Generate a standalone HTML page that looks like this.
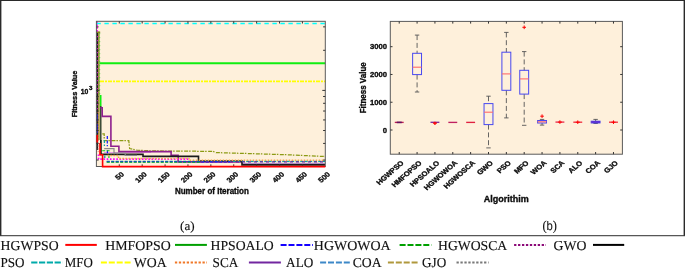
<!DOCTYPE html><html><head><meta charset="utf-8"><style>html,body{margin:0;padding:0;background:#fff;}svg{display:block;will-change:transform;}path{fill:none}.b{font-family:"Liberation Sans",sans-serif;font-weight:bold;stroke:#000;stroke-width:0.32px;fill:#111}.s{font-family:"Liberation Serif",serif;stroke:#111;stroke-width:0.12px;text-rendering:geometricPrecision;fill:#111}</style></head><body>
<svg width="685" height="270" viewBox="0 0 685 270">
<rect width="685" height="270" fill="#fff"/>
<path d="M0,0.55 H685" stroke="#2a2a2a" stroke-width="1.1"/>
<path d="M0.7,0 V236" stroke="#2a2a2a" stroke-width="1.4"/>
<path d="M684.3,0 V236" stroke="#2a2a2a" stroke-width="1.4"/>
<path d="M0,235.55 H685" stroke="#3a3a3a" stroke-width="1.25" opacity="0.85"/>
<rect x="96.4" y="21.3" width="228.90" height="145.20" fill="#FEF0DB"/>
<rect x="390.3" y="21.4" width="232.10" height="132.80" fill="#FEF0DB"/>
<path d="M97.2,31.5 V150" stroke="#222" stroke-width="1.8"/>
<path d="M97.6,36 V112" stroke="#c018c0" stroke-width="1.2" stroke-dasharray="1.2 2.8"/>
<path d="M98.9,31.5 V140" stroke="#86861c" stroke-width="1.4"/>
<path d="M96.6,32.3 H100.2" stroke="#86861c" stroke-width="1.4"/>
<path d="M99.7,33 V95" stroke="#40d040" stroke-width="0.9" stroke-dasharray="1.2 2.8"/>
<path d="M98.2,112 V152" stroke="#f07070" stroke-width="1.1" stroke-dasharray="1 1.8"/>
<path d="M96.9,114 V121 M96.9,124 V133" stroke="#2020ff" stroke-width="1.3"/>
<path d="M97.1,21.5 V31.5" stroke="#ff00ff" stroke-width="1.6" stroke-dasharray="1.6 1.2"/>
<path d="M96.4,23.5 H325.3" stroke="#00ffff" stroke-width="1.6" stroke-dasharray="4.4 3.6"/>
<path d="M99.6,63.2 H325.3" stroke="#10ee10" stroke-width="2.0"/>
<path d="M100.7,95 V106.5" stroke="#10ee10" stroke-width="1.6"/>
<path d="M100,81.4 H325.3" stroke="#ffff00" stroke-width="1.6" stroke-dasharray="4 1 2 1"/>
<path d="M100.8,106 V154.4" stroke="#1c301c" stroke-width="1.3"/>
<path d="M102.3,133.8 H104.2 V140.7 H128.8 L129.6,148.5 L137,150.2 L152,150.9 L180,151.2 L213,151.3 L216,152.6 L240,153.3 L286,154.7 L325,156.5" stroke="#8c9a14" stroke-width="1.25" stroke-dasharray="4 1 1.5 1.5"/>
<path d="M104,152.5 H151" stroke="#e79ae7" stroke-width="1.0"/>
<path d="M100.4,107.8 H102.2 V116.4 H110.9 V146.3 H118.9 V151.6 H171.1 V155.4 H178.1 V161.9 H242.2" stroke="#8e1f8e" stroke-width="1.6"/>
<path d="M242.2,162.3 V163.4 H325" stroke="#b08ac0" stroke-width="1.2"/>
<path d="M100.8,140 V154.4 H143 V156.4 H198.5 V161 H242 V164.9 H325" stroke="#1a1a1a" stroke-width="1.6"/>
<path d="M104.2,148.7 H114 V153.2 H125.2 V155.4 H137" stroke="#8a8a8a" stroke-width="1.2"/>
<path d="M98.5,154.5 V159.1 H188.9" stroke="#ff00ff" stroke-width="1.7" stroke-dasharray="1.6 1.6"/>
<path d="M104.4,140 V146 M104.8,155.4 V158 M106.7,161.4 H325" stroke="#10a0a0" stroke-width="1.3" stroke-dasharray="3 1.5"/>
<path d="M107.3,136 V146.3 M107.4,150.2 V153.2 M106.7,161.8 H230" stroke="#1010ff" stroke-width="1.2" stroke-dasharray="3 1.5"/>
<path d="M102.2,150.8 H109.6 M108.9,155.4 V158 M106.7,162.2 H200" stroke="#10c010" stroke-width="1.1" stroke-dasharray="3 1.5"/>
<path d="M200,161.8 H325" stroke="#6a2aa0" stroke-width="1.3" stroke-dasharray="3 3"/>
<path d="M107.4,155.6 H118.5 V158.6 H189 V160.3 H325" stroke="#f6a848" stroke-width="1.5" stroke-dasharray="1.5 1.5"/>
<path d="M394.78,122.4 H403.68" stroke="#c02050" stroke-width="1.35"/>
<path d="M396.73,122.4 H401.73" stroke="#601060" stroke-width="1.6"/>
<path d="M417.08,35.1 V53.3" stroke="#555" stroke-width="0.9" stroke-dasharray="5 2.8"/>
<path d="M414.88,35.1 H419.28" stroke="#555" stroke-width="0.9"/>
<path d="M417.08,74.6 V92.0" stroke="#555" stroke-width="0.9" stroke-dasharray="5 2.8"/>
<path d="M414.88,92.0 H419.28" stroke="#555" stroke-width="0.9"/>
<rect x="412.63" y="53.3" width="8.90" height="21.30" fill="none" stroke="#4848f0" stroke-width="1"/>
<path d="M412.63,67.2 H421.53" stroke="#ff6a6a" stroke-width="1.1"/>
<path d="M430.48,122.3 H439.38" stroke="#8030a0" stroke-width="1.35"/>
<path d="M432.93,123.2 H436.93 M434.93,121.8 V125" stroke="#ff0000" stroke-width="1.3"/>
<path d="M448.34,122.4 H457.24" stroke="#c02060" stroke-width="1.35"/>
<path d="M466.19,122.4 H475.09" stroke="#e02040" stroke-width="1.35"/>
<path d="M488.50,96.2 V103.6" stroke="#555" stroke-width="0.9" stroke-dasharray="5 2.8"/>
<path d="M486.30,96.2 H490.70" stroke="#555" stroke-width="0.9"/>
<path d="M488.50,124.6 V147.9" stroke="#555" stroke-width="0.9" stroke-dasharray="5 2.8"/>
<path d="M486.30,147.9 H490.70" stroke="#555" stroke-width="0.9"/>
<rect x="484.05" y="103.6" width="8.90" height="21.00" fill="none" stroke="#4848f0" stroke-width="1"/>
<path d="M484.05,112.2 H492.95" stroke="#ff6a6a" stroke-width="1.1"/>
<path d="M506.35,32.4 V52.2" stroke="#555" stroke-width="0.9" stroke-dasharray="5 2.8"/>
<path d="M504.15,32.4 H508.55" stroke="#555" stroke-width="0.9"/>
<path d="M506.35,90.3 V117.9" stroke="#555" stroke-width="0.9" stroke-dasharray="5 2.8"/>
<path d="M504.15,117.9 H508.55" stroke="#555" stroke-width="0.9"/>
<rect x="501.90" y="52.2" width="8.90" height="38.10" fill="none" stroke="#4848f0" stroke-width="1"/>
<path d="M501.90,73.9 H510.80" stroke="#ff6a6a" stroke-width="1.1"/>
<path d="M524.20,51.6 V70.3" stroke="#555" stroke-width="0.9" stroke-dasharray="5 2.8"/>
<path d="M522.00,51.6 H526.40" stroke="#555" stroke-width="0.9"/>
<path d="M524.20,94.1 V125.3" stroke="#555" stroke-width="0.9" stroke-dasharray="5 2.8"/>
<path d="M522.00,125.3 H526.40" stroke="#555" stroke-width="0.9"/>
<rect x="519.75" y="70.3" width="8.90" height="23.80" fill="none" stroke="#4848f0" stroke-width="1"/>
<path d="M519.75,78.9 H528.65" stroke="#ff6a6a" stroke-width="1.1"/>
<path d="M522.40,27.3 H526.00 M524.20,25.5 V29.1" stroke="#ff0000" stroke-width="1"/>
<path d="M542.06,119.4 V120.5" stroke="#555" stroke-width="0.9" stroke-dasharray="5 2.8"/>
<path d="M539.86,119.4 H544.26" stroke="#555" stroke-width="0.9"/>
<path d="M542.06,123.0 V125.1" stroke="#555" stroke-width="0.9" stroke-dasharray="5 2.8"/>
<path d="M539.86,125.1 H544.26" stroke="#555" stroke-width="0.9"/>
<rect x="537.61" y="120.5" width="8.90" height="2.50" fill="none" stroke="#4848f0" stroke-width="1"/>
<path d="M537.61,121.8 H546.51" stroke="#ff6a6a" stroke-width="1.1"/>
<path d="M540.26,116.2 H543.86 M542.06,114.4 V118.0" stroke="#ff0000" stroke-width="1"/>
<path d="M555.46,122.1 H564.36" stroke="#e83050" stroke-width="1.35"/>
<path d="M557.91,122.1 H561.91 M559.91,120.3 V123.89999999999999" stroke="#ff0000" stroke-width="1"/>
<path d="M573.32,122.2 H582.22" stroke="#f03040" stroke-width="1.35"/>
<path d="M575.77,122.2 H579.77 M577.77,120.4 V124.0" stroke="#ff0000" stroke-width="1"/>
<path d="M595.62,119.4 V121.2" stroke="#555" stroke-width="0.9" stroke-dasharray="5 2.8"/>
<path d="M593.42,119.4 H597.82" stroke="#555" stroke-width="0.9"/>
<path d="M595.62,122.9 V123.5" stroke="#555" stroke-width="0.9" stroke-dasharray="5 2.8"/>
<path d="M593.42,123.5 H597.82" stroke="#555" stroke-width="0.9"/>
<rect x="591.17" y="121.2" width="8.90" height="1.70" fill="none" stroke="#4848f0" stroke-width="1"/>
<path d="M591.17,122.0 H600.07" stroke="#ff6a6a" stroke-width="1.1"/>
<rect x="591.22" y="121.0" width="8.8" height="2.1" fill="#5a34d8"/>
<path d="M609.02,122.2 H617.92" stroke="#f03040" stroke-width="1.35"/>
<path d="M611.47,122.2 H615.47 M613.47,120.4 V124.0" stroke="#ff0000" stroke-width="1"/>
<rect x="96.4" y="21.3" width="228.90" height="145.20" fill="none" stroke="#5a5a5a" stroke-width="1"/>
<rect x="390.3" y="21.4" width="232.10" height="132.80" fill="none" stroke="#5a5a5a" stroke-width="1"/>
<path d="M119.29,166.5 v-2.2 M119.29,21.3 v2.2 M142.18,166.5 v-2.2 M142.18,21.3 v2.2 M165.07,166.5 v-2.2 M165.07,21.3 v2.2 M187.96,166.5 v-2.2 M187.96,21.3 v2.2 M210.85,166.5 v-2.2 M210.85,21.3 v2.2 M233.74,166.5 v-2.2 M233.74,21.3 v2.2 M256.63,166.5 v-2.2 M256.63,21.3 v2.2 M279.52,166.5 v-2.2 M279.52,21.3 v2.2 M302.41,166.5 v-2.2 M302.41,21.3 v2.2 M96.4,160.05 h2.2 M325.3,160.05 h-2.2 M96.4,143.41 h2.2 M325.3,143.41 h-2.2 M96.4,130.50 h2.2 M325.3,130.50 h-2.2 M96.4,119.95 h2.2 M325.3,119.95 h-2.2 M96.4,111.03 h2.2 M325.3,111.03 h-2.2 M96.4,103.31 h2.2 M325.3,103.31 h-2.2 M96.4,96.49 h2.2 M325.3,96.49 h-2.2 M96.4,90.40 h3.0 M325.3,90.40 h-3.0 M96.4,50.30 h2.2 M325.3,50.30 h-2.2 M96.4,26.85 h2.2 M325.3,26.85 h-2.2 M399.23,154.2 v-2.2 M399.23,21.4 v2.2 M417.08,154.2 v-2.2 M417.08,21.4 v2.2 M434.93,154.2 v-2.2 M434.93,21.4 v2.2 M452.79,154.2 v-2.2 M452.79,21.4 v2.2 M470.64,154.2 v-2.2 M470.64,21.4 v2.2 M488.50,154.2 v-2.2 M488.50,21.4 v2.2 M506.35,154.2 v-2.2 M506.35,21.4 v2.2 M524.20,154.2 v-2.2 M524.20,21.4 v2.2 M542.06,154.2 v-2.2 M542.06,21.4 v2.2 M559.91,154.2 v-2.2 M559.91,21.4 v2.2 M577.77,154.2 v-2.2 M577.77,21.4 v2.2 M595.62,154.2 v-2.2 M595.62,21.4 v2.2 M613.47,154.2 v-2.2 M613.47,21.4 v2.2 M390.3,130.00 h2.2 M622.4,130.00 h-2.2 M390.3,102.23 h2.2 M622.4,102.23 h-2.2 M390.3,74.46 h2.2 M622.4,74.46 h-2.2 M390.3,46.69 h2.2 M622.4,46.69 h-2.2 " stroke="#333" stroke-width="1"/>
<path d="M97.2,135 V142.5 M100,143 V154.7 H102.6 V166.6 H325.3" fill="none" stroke="#ff0000" stroke-width="1.6"/>
<text x="0" y="0" transform="translate(124.49,174.9) scale(1,0.88) rotate(-45)" text-anchor="end" class="b" style="font-size:7.8px">50</text>
<text x="0" y="0" transform="translate(147.38,174.9) scale(1,0.88) rotate(-45)" text-anchor="end" class="b" style="font-size:7.8px">100</text>
<text x="0" y="0" transform="translate(170.27,174.9) scale(1,0.88) rotate(-45)" text-anchor="end" class="b" style="font-size:7.8px">150</text>
<text x="0" y="0" transform="translate(193.16,174.9) scale(1,0.88) rotate(-45)" text-anchor="end" class="b" style="font-size:7.8px">200</text>
<text x="0" y="0" transform="translate(216.05,174.9) scale(1,0.88) rotate(-45)" text-anchor="end" class="b" style="font-size:7.8px">250</text>
<text x="0" y="0" transform="translate(238.94,174.9) scale(1,0.88) rotate(-45)" text-anchor="end" class="b" style="font-size:7.8px">300</text>
<text x="0" y="0" transform="translate(261.83,174.9) scale(1,0.88) rotate(-45)" text-anchor="end" class="b" style="font-size:7.8px">350</text>
<text x="0" y="0" transform="translate(284.72,174.9) scale(1,0.88) rotate(-45)" text-anchor="end" class="b" style="font-size:7.8px">400</text>
<text x="0" y="0" transform="translate(307.61,174.9) scale(1,0.88) rotate(-45)" text-anchor="end" class="b" style="font-size:7.8px">450</text>
<text x="0" y="0" transform="translate(330.50,174.9) scale(1,0.88) rotate(-45)" text-anchor="end" class="b" style="font-size:7.8px">500</text>
<text x="80.8" y="94.3" class="b" style="font-size:7.6px" textLength="7.6" lengthAdjust="spacingAndGlyphs">10</text>
<text x="89.1" y="90.2" class="b" style="font-size:6.2px">3</text>
<text x="0" y="0" transform="translate(77.2,94) rotate(-90)" text-anchor="middle" class="b" style="font-size:7.9px" textLength="46.6" lengthAdjust="spacingAndGlyphs">Fitness Value</text>
<text x="174.9" y="194.4" class="b" style="font-size:8.4px" textLength="73.9" lengthAdjust="spacingAndGlyphs">Number of Iteration</text>
<text x="387" y="132.80" text-anchor="end" class="b" style="font-size:7.7px">0</text>
<text x="387" y="105.03" text-anchor="end" class="b" style="font-size:7.7px">1000</text>
<text x="387" y="77.26" text-anchor="end" class="b" style="font-size:7.7px">2000</text>
<text x="387" y="49.49" text-anchor="end" class="b" style="font-size:7.7px">3000</text>
<text x="0" y="0" transform="translate(365.6,87.8) rotate(-90)" text-anchor="middle" class="b" style="font-size:8.6px" textLength="51" lengthAdjust="spacingAndGlyphs">Fitness Value</text>
<text x="0" y="0" transform="translate(404.33,163.4) scale(1,0.88) rotate(-45)" text-anchor="end" class="b" style="font-size:7.7px">HGWPSO</text>
<text x="0" y="0" transform="translate(422.18,163.4) scale(1,0.88) rotate(-45)" text-anchor="end" class="b" style="font-size:7.7px">HMFOPSO</text>
<text x="0" y="0" transform="translate(440.03,163.4) scale(1,0.88) rotate(-45)" text-anchor="end" class="b" style="font-size:7.7px">HPSOALO</text>
<text x="0" y="0" transform="translate(457.89,163.4) scale(1,0.88) rotate(-45)" text-anchor="end" class="b" style="font-size:7.7px">HGWOWOA</text>
<text x="0" y="0" transform="translate(475.74,163.4) scale(1,0.88) rotate(-45)" text-anchor="end" class="b" style="font-size:7.7px">HGWOSCA</text>
<text x="0" y="0" transform="translate(493.60,163.4) scale(1,0.88) rotate(-45)" text-anchor="end" class="b" style="font-size:7.7px">GWO</text>
<text x="0" y="0" transform="translate(511.45,163.4) scale(1,0.88) rotate(-45)" text-anchor="end" class="b" style="font-size:7.7px">PSO</text>
<text x="0" y="0" transform="translate(529.30,163.4) scale(1,0.88) rotate(-45)" text-anchor="end" class="b" style="font-size:7.7px">MFO</text>
<text x="0" y="0" transform="translate(547.16,163.4) scale(1,0.88) rotate(-45)" text-anchor="end" class="b" style="font-size:7.7px">WOA</text>
<text x="0" y="0" transform="translate(565.01,163.4) scale(1,0.88) rotate(-45)" text-anchor="end" class="b" style="font-size:7.7px">SCA</text>
<text x="0" y="0" transform="translate(582.87,163.4) scale(1,0.88) rotate(-45)" text-anchor="end" class="b" style="font-size:7.7px">ALO</text>
<text x="0" y="0" transform="translate(600.72,163.4) scale(1,0.88) rotate(-45)" text-anchor="end" class="b" style="font-size:7.7px">COA</text>
<text x="0" y="0" transform="translate(618.57,163.4) scale(1,0.88) rotate(-45)" text-anchor="end" class="b" style="font-size:7.7px">GJO</text>
<text x="483.8" y="202.1" class="b" style="font-size:9px" textLength="45" lengthAdjust="spacingAndGlyphs">Algorithim</text>
<text x="180" y="229.6" class="s" style="font-size:12.5px" textLength="14.6" lengthAdjust="spacingAndGlyphs">(a)</text>
<text x="542.4" y="229.8" class="s" style="font-size:13.6px" textLength="14.6" lengthAdjust="spacingAndGlyphs">(<tspan style="font-family:'Liberation Sans',sans-serif;font-size:12.4px;stroke-width:0.05px">b</tspan>)</text>
<text x="0.6" y="249.6" class="s" style="font-size:13.7px" textLength="58.0" lengthAdjust="spacingAndGlyphs">HGWPSO</text>
<text x="105.2" y="249.6" class="s" style="font-size:13.7px" textLength="65.5" lengthAdjust="spacingAndGlyphs">HMFOPSO</text>
<text x="210.6" y="249.6" class="s" style="font-size:13.7px" textLength="63.1" lengthAdjust="spacingAndGlyphs">HPSOALO</text>
<text x="313.8" y="249.6" class="s" style="font-size:13.7px" textLength="76.9" lengthAdjust="spacingAndGlyphs">HGWOWOA</text>
<text x="438" y="249.6" class="s" style="font-size:13.7px" textLength="69.2" lengthAdjust="spacingAndGlyphs">HGWOSCA</text>
<text x="553.6" y="249.6" class="s" style="font-size:13.7px" textLength="32.9" lengthAdjust="spacingAndGlyphs">GWO</text>
<text x="0.5" y="267.0" class="s" style="font-size:13.7px" textLength="24.0" lengthAdjust="spacingAndGlyphs">PSO</text>
<text x="64.8" y="267.0" class="s" style="font-size:13.7px" textLength="28.1" lengthAdjust="spacingAndGlyphs">MFO</text>
<text x="133.8" y="267.0" class="s" style="font-size:13.7px" textLength="32.9" lengthAdjust="spacingAndGlyphs">WOA</text>
<text x="212.6" y="267.0" class="s" style="font-size:13.7px" textLength="25.7" lengthAdjust="spacingAndGlyphs">SCA</text>
<text x="286.1" y="267.0" class="s" style="font-size:13.7px" textLength="27.2" lengthAdjust="spacingAndGlyphs">ALO</text>
<text x="352.7" y="267.0" class="s" style="font-size:13.7px" textLength="28.9" lengthAdjust="spacingAndGlyphs">COA</text>
<text x="422" y="267.0" class="s" style="font-size:13.7px" textLength="24.2" lengthAdjust="spacingAndGlyphs">GJO</text>
<path d="M65.3,244.9 H96.8" stroke="#ff0000" stroke-width="2"/>
<path d="M175.0,244.9 H206.9" stroke="#00a000" stroke-width="2"/>
<path d="M280.6,244.9 H313.0" stroke="#1400ff" stroke-width="2" stroke-dasharray="6 1.9"/>
<path d="M399.6,244.9 H431.5" stroke="#00a000" stroke-width="2" stroke-dasharray="6 1.9"/>
<path d="M514.1,244.9 H546" stroke="#8c0a78" stroke-width="2" stroke-dasharray="2.3 1.64"/>
<path d="M593,244.9 H624.2" stroke="#000000" stroke-width="2"/>
<path d="M31.2,262.4 H62.5" stroke="#00aaaa" stroke-width="2" stroke-dasharray="6.2 1.6"/>
<path d="M100.9,262.4 H131.5" stroke="#ffff00" stroke-width="2" stroke-dasharray="6 1.9"/>
<path d="M174.9,262.4 H207" stroke="#f07828" stroke-width="2" stroke-dasharray="2.3 1.64"/>
<path d="M248.9,262.4 H280.9" stroke="#7226a0" stroke-width="2"/>
<path d="M320.1,262.4 H351" stroke="#3c88c8" stroke-width="2" stroke-dasharray="6 1.9"/>
<path d="M387.9,262.4 H419.5" stroke="#b0983c" stroke-width="2" stroke-dasharray="6 1.9"/>
<path d="M456.5,262.4 H488.6" stroke="#787878" stroke-width="2" stroke-dasharray="2.3 1.64"/>
</svg></body></html>
